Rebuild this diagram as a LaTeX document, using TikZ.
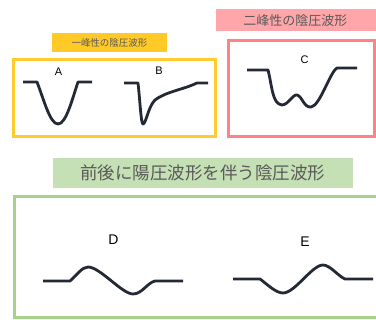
\documentclass[tikz,border=0pt]{standalone}
\usepackage{fontspec}
\setmainfont{Liberation Sans}
\newfontfamily\jpfont{Noto Sans CJK JP}
\definecolor{ylw}{HTML}{FFCA28}
\definecolor{ylwframe}{HTML}{FFCB2E}
\definecolor{pnklabel}{HTML}{FFA6AA}
\definecolor{pnkframe}{HTML}{FF8286}
\definecolor{grnlabel}{HTML}{C5E0B4}
\definecolor{grnframe}{HTML}{A9D18E}
\definecolor{wave}{HTML}{232A35}
\definecolor{txtgray}{HTML}{595959}
\tikzset{
  wavestyle/.style={draw=wave, line width=2.8pt, line join=round},
  framestyle/.style={line width=3pt},
  titlebox/.style={inner sep=0pt, text=txtgray},
  letterlbl/.style={inner sep=0pt, text=black}
}
\begin{document}
\begin{tikzpicture}[x=1pt,y=-1pt]
\useasboundingbox (0,0) rectangle (376,320);
\clip (0,0) rectangle (376,320);
\fill[white] (0,0) rectangle (376,320);
% yellow group
\fill[ylw] (52,33) rectangle (167,52);
\node[titlebox, font=\jpfont\fontsize{9.5}{11}\selectfont] (ytitle) at (109.5,42.5) {一峰性の陰圧波形};
\draw[framestyle, draw=ylwframe] (13.5,59.5) rectangle (215,136.5);
\node[letterlbl, font=\fontsize{11}{13}\selectfont] (la) at (58.5,71.5) {A};
\node[letterlbl, font=\fontsize{11}{13}\selectfont] (lb) at (159,71) {B};
\draw[wavestyle] (23,82) -- (37,82) .. controls (44,100) and (50,124) .. (58,124) .. controls (66,124) and (72,100) .. (78,82) -- (92,82);
\draw[wavestyle] (124,83) -- (138,83) .. controls (140,100) and (141,124) .. (143,124) .. controls (146,124) and (148,107) .. (155,100) .. controls (165,92) and (185,89) .. (197,83) -- (208,83);
% pink group
\fill[pnklabel] (216,9) rectangle (376,31.5);
\node[titlebox, font=\jpfont\fontsize{13}{15}\selectfont] (ptitle) at (295.5,20.5) {二峰性の陰圧波形};
\draw[framestyle, draw=pnkframe] (228,41) rectangle (374.5,136.5);
\node[letterlbl, font=\fontsize{11}{13}\selectfont] (lc) at (304.5,60) {C};
\draw[wavestyle] (247,70) -- (268,70) .. controls (272,85) and (272,104) .. (282,105) .. controls (288,105) and (293,94) .. (297,95) .. controls (302,96) and (304,108) .. (311,107) .. controls (320,106) and (330,72) .. (337,68) -- (357,68);
% green group
\fill[grnlabel] (53,158) rectangle (353,188);
\node[titlebox, font=\jpfont\fontsize{17.5}{20}\selectfont] (gtitle) at (203,173) {前後に陽圧波形を伴う陰圧波形};
\draw[framestyle, draw=grnframe] (390,196.5) -- (14.5,196.5) -- (14.5,317.5) -- (390,317.5);
\node[letterlbl, font=\fontsize{14}{16}\selectfont] (ld) at (113.5,240) {D};
\node[letterlbl, font=\fontsize{14}{16}\selectfont] (le) at (305,242) {E};
\draw[wavestyle] (43,281) -- (70,281) .. controls (77,275) and (82,267) .. (88,267) .. controls (100,267) and (122,294) .. (133,294) .. controls (142,294) and (147,283) .. (155,281) -- (183,281);
\draw[wavestyle] (233,279) -- (260,279) .. controls (268,285) and (276,293) .. (283,293) .. controls (295,293) and (312,265) .. (323,265) .. controls (330,265) and (338,276) .. (345,279) -- (373,279);
\end{tikzpicture}
\end{document}
